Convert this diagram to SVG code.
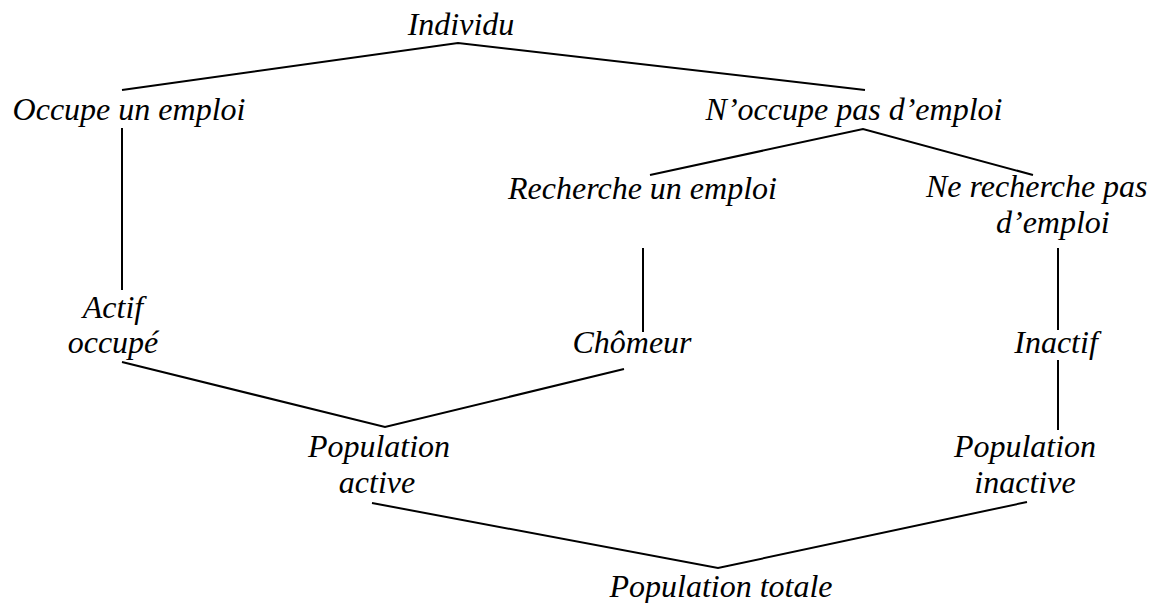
<svg xmlns="http://www.w3.org/2000/svg" width="1159" height="603" viewBox="0 0 1159 603">
<style>
text{font-family:"Liberation Serif","Times New Roman",serif;font-style:italic;font-size:32px;fill:#000}
.c{stroke:#000;stroke-width:2;fill:none}
</style>
<rect width="1159" height="603" fill="#fff"/>
<g id="connectors">
<polyline class="c" points="122,90 458,43 865,90"/>
<line class="c" x1="122" y1="128" x2="122" y2="290"/>
<polyline class="c" points="650,175 863,129 1033,175"/>
<line class="c" x1="643" y1="248" x2="643" y2="332"/>
<line class="c" x1="1058" y1="248" x2="1058" y2="330"/>
<line class="c" x1="1058" y1="360" x2="1058" y2="430"/>
<polyline class="c" points="122,362 385,427 624,369"/>
<polyline class="c" points="372,503 718,568 1027,502"/>
</g>
<g id="individu"><text x="461" y="35" text-anchor="middle">Individu</text></g>
<g id="occupe"><text x="129" y="120" text-anchor="middle">Occupe un emploi</text></g>
<g id="noccupe"><text x="854" y="120" text-anchor="middle">N’occupe pas d’emploi</text></g>
<g id="recherche"><text x="508" y="199">Recherche un emploi</text></g>
<g id="nerecherche"><text x="926" y="197">Ne recherche pas</text><text x="996" y="233">d’emploi</text></g>
<g id="actif"><text x="113" y="318" text-anchor="middle">Actif</text><text x="113" y="353" text-anchor="middle">occupé</text></g>
<g id="chomeur"><text x="632" y="353" text-anchor="middle">Chômeur</text></g>
<g id="inactif"><text x="1056" y="353" text-anchor="middle">Inactif</text></g>
<g id="popactive"><text x="379" y="457" text-anchor="middle">Population</text><text x="377" y="493" text-anchor="middle">active</text></g>
<g id="popinactive"><text x="1025" y="457" text-anchor="middle">Population</text><text x="1025" y="493" text-anchor="middle">inactive</text></g>
<g id="poptotale"><text x="721" y="597" text-anchor="middle">Population totale</text></g>
</svg>
